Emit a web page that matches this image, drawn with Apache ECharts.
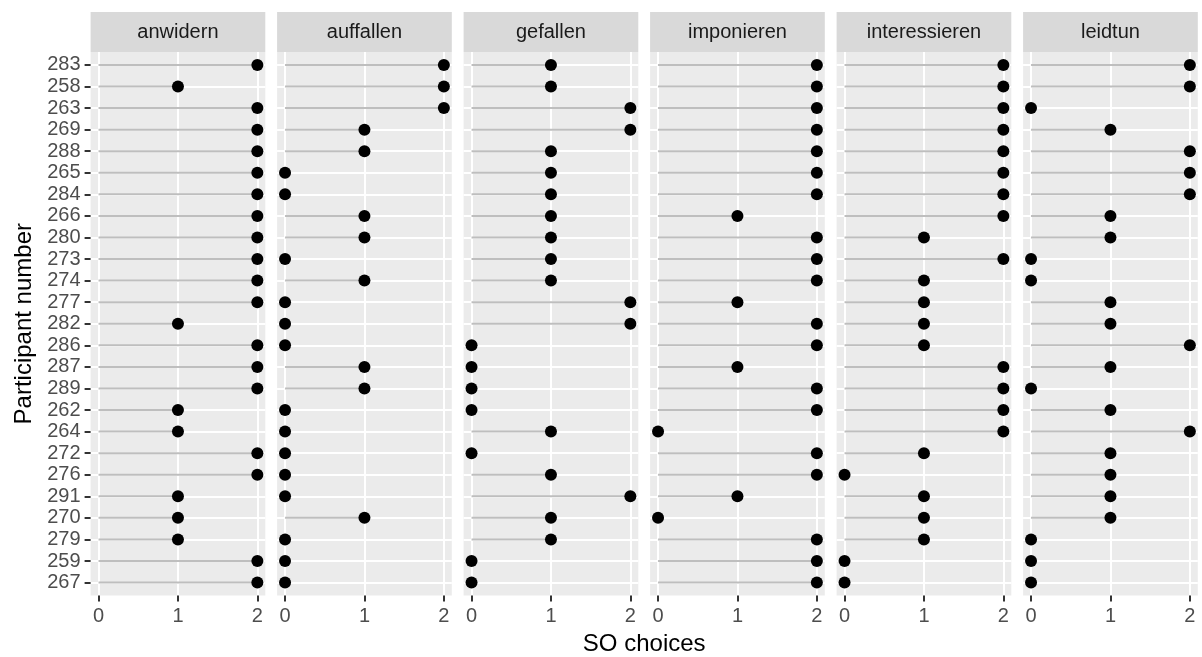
<!DOCTYPE html>
<html>
<head>
<meta charset="utf-8">
<script src="https://cdn.jsdelivr.net/npm/echarts@6/dist/echarts.min.js"></script>
<style>
  html, body { margin: 0; padding: 0; background: #ffffff; }
  #chart { width: 1202px; height: 657px; }
</style>
</head>
<body>
<div id="chart"></div>
<script>
// Participants, top to bottom
const participants = ['283','258','263','269','288','265','284','266','280','273','274','277','282',
                      '286','287','289','262','264','272','276','291','270','279','259','267'];

// Facet (verb) names
const verbs = ['anwidern','auffallen','gefallen','imponieren','interessieren','leidtun'];

// SO choices per participant, same order as participants
const anwidern      = [2,1,2,2,2,2,2,2,2,2,2,2,1,2,2,2,1,1,2,2,1,1,1,2,2];
const auffallen     = [2,2,2,1,1,0,0,1,1,0,1,0,0,0,1,1,0,0,0,0,0,1,0,0,0];
const gefallen      = [1,1,2,2,1,1,1,1,1,1,1,2,2,0,0,0,0,1,0,1,2,1,1,0,0];
const imponieren    = [2,2,2,2,2,2,2,1,2,2,2,1,2,2,1,2,2,0,2,2,1,0,2,2,2];
const interessieren = [2,2,2,2,2,2,2,2,1,2,1,1,1,1,2,2,2,2,1,0,1,1,1,0,0];
const leidtun       = [2,2,0,1,2,2,2,1,1,0,0,1,1,2,1,0,1,2,1,1,1,1,0,0,0];

const xTicks = [0, 1, 2];

const valuesByVerb = [anwidern, auffallen, gefallen, imponieren, interessieren, leidtun];

// Panel layout (pixels)
const FONT = '"Liberation Sans", Arial, sans-serif';
const panelLeft0 = 90.6, panelPitch = 186.5, panelWidth = 174.7;
const panelTop = 52, panelHeight = 543.5, stripTop = 12;

const rowIdx = participants.map((_, i) => i);

const grids = [], xAxes = [], yAxes = [], series = [], graphics = [];

verbs.forEach((verb, k) => {
  const left = panelLeft0 + k * panelPitch;
  grids.push({
    left: left, top: panelTop, width: panelWidth, height: panelHeight,
    show: true, backgroundColor: '#EBEBEB', borderWidth: 0
  });
  xAxes.push({
    type: 'value', gridIndex: k, min: -0.1, max: 2.1, position: 'bottom',
    axisLine: { show: false, onZero: false },
    axisTick: { show: true, customValues: xTicks, length: 6, lineStyle: { color: '#333333', width: 2 } },
    axisLabel: { show: true, customValues: xTicks, color: '#4D4D4D', fontSize: 20, fontFamily: FONT, margin: 11 },
    splitLine: { show: true, lineStyle: { color: '#FFFFFF', width: 2 } }
  });
  yAxes.push({
    type: 'value', gridIndex: k, min: -0.6, max: 24.6, inverse: true, position: 'left',
    axisLine: { show: false, onZero: false },
    axisTick: { show: k === 0, customValues: rowIdx, length: 6, lineStyle: { color: '#333333', width: 2 } },
    axisLabel: {
      show: k === 0, customValues: rowIdx, color: '#4D4D4D', fontSize: 20, fontFamily: FONT, margin: 10,
      formatter: v => participants[Math.round(v)]
    },
    splitLine: { show: true, lineStyle: { color: '#FFFFFF', width: 2 } }
  });

  const pts = valuesByVerb[k].map((v, i) => [v, i]);

  // stems from 0 to the value
  series.push({
    type: 'custom', xAxisIndex: k, yAxisIndex: k, silent: true, z: 2,
    encode: { x: 0, y: 1 },
    data: pts,
    renderItem: (params, api) => {
      const p0 = api.coord([0, api.value(1)]);
      const p1 = api.coord([api.value(0), api.value(1)]);
      return {
        type: 'line',
        shape: { x1: p0[0], y1: p0[1], x2: p1[0], y2: p1[1] },
        style: { stroke: '#BEBEBE', lineWidth: 2 }
      };
    }
  });
  // heads
  series.push({
    type: 'scatter', xAxisIndex: k, yAxisIndex: k, silent: true, z: 3,
    symbol: 'circle', symbolSize: 12,
    itemStyle: { color: '#000000', opacity: 1 },
    data: pts
  });

  // facet strip
  graphics.push({
    type: 'rect', silent: true, z: 0,
    shape: { x: left, y: stripTop, width: panelWidth, height: panelTop - stripTop },
    style: { fill: '#D9D9D9' }
  });
  graphics.push({
    type: 'text', silent: true, z: 1,
    x: left + panelWidth / 2, y: (stripTop + panelTop) / 2,
    style: { text: verb, fill: '#1A1A1A', font: '20px ' + FONT, align: 'center', verticalAlign: 'middle' }
  });
});

// axis titles
graphics.push({
  type: 'text', silent: true,
  x: (panelLeft0 + panelLeft0 + 5 * panelPitch + panelWidth) / 2, y: 644,
  style: { text: 'SO choices', fill: '#000000', font: '24px ' + FONT, align: 'center', verticalAlign: 'middle' }
});
graphics.push({
  type: 'text', silent: true,
  x: 24, y: panelTop + panelHeight / 2, rotation: Math.PI / 2,
  style: { text: 'Participant number', fill: '#000000', font: '24px ' + FONT, align: 'center', verticalAlign: 'middle' }
});

const chart = echarts.init(document.getElementById('chart'), null, { renderer: 'canvas' });
chart.setOption({
  animation: false,
  backgroundColor: '#FFFFFF',
  grid: grids,
  xAxis: xAxes,
  yAxis: yAxes,
  series: series,
  graphic: graphics
});
</script>
</body>
</html>
